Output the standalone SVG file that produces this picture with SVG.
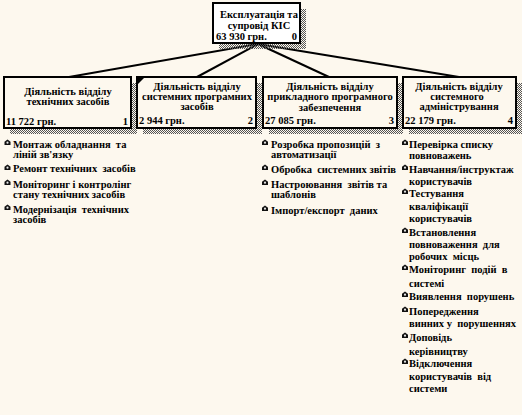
<svg xmlns="http://www.w3.org/2000/svg" width="522" height="415" viewBox="0 0 522 415">
<defs>
<pattern id="dither" width="2" height="2" patternUnits="userSpaceOnUse">
<rect x="0" y="0" width="1" height="1" fill="#555"/>
<rect x="1" y="1" width="1" height="1" fill="#555"/>
</pattern>
<g id="bul"><path d="M-3,2 L-3,-1.2 L0,-3.5 L3,-1.2 L3,2 Z" fill="#111"/><circle cx="0" cy="-0.3" r="1.1" fill="#e8e8e8"/></g>
</defs>
<style>
text{font-family:"Liberation Serif","Times New Roman",serif;font-weight:bold;font-size:10.5px;fill:#000;white-space:pre;}
.c{text-anchor:middle;}
.e{text-anchor:end;}
.box{fill:#FDF8EE;stroke:#000;stroke-width:2;}
.root{fill:#fff;stroke:#000;stroke-width:2;}
.sh{fill:url(#dither);}
.con line{stroke:#000;stroke-width:2;}
</style>
<rect width="522" height="415" fill="#FDF8EE"/>
<g class="con">
<line x1="258" y1="44" x2="69" y2="77"/>
<line x1="258" y1="44" x2="197" y2="77"/>
<line x1="258" y1="44" x2="329" y2="77"/>
<line x1="258" y1="44" x2="459" y2="77"/>
</g>
<g id="n0">
<rect class="sh" x="219" y="9" width="87" height="40"/>
<rect class="root" x="213" y="3" width="87" height="40"/>
<text class="c" x="259" y="18">Експлуатація та</text>
<text class="c" x="259" y="29">супровід КІС</text>
<text x="216" y="40">63 930 грн.</text>
<text class="e" x="297" y="40">0</text>
</g>
<g id="n1">
<rect class="sh" x="10" y="83" width="127" height="51"/>
<rect class="box" x="4" y="77" width="127" height="51"/>
<text class="c" x="68" y="95">Діяльність відділу</text>
<text class="c" x="68" y="105">технічних засобів</text>
<text x="6" y="125">11 722 грн.</text>
<text class="e" x="128" y="125">1</text>
</g>
<g id="n2">
<rect class="sh" x="143" y="83" width="119" height="51"/>
<rect class="box" x="137" y="77" width="119" height="51"/>
<path d="M138,78 L144,78 L138,84 Z" fill="#000"/>
<text class="c" x="197" y="90">Діяльність відділу</text>
<text class="c" x="197" y="100">системних програмних</text>
<text class="c" x="197" y="110">засобів</text>
<text x="139" y="124">2 944 грн.</text>
<text class="e" x="253" y="124">2</text>
</g>
<g id="n3">
<rect class="sh" x="269" y="83" width="134" height="51"/>
<rect class="box" x="263" y="77" width="134" height="51"/>
<text class="c" x="330" y="90">Діяльність відділу</text>
<text class="c" x="330" y="100">прикладного програмного</text>
<text class="c" x="330" y="111">забезпечення</text>
<text x="265" y="124">27 085 грн.</text>
<text class="e" x="394" y="124">3</text>
</g>
<g id="n4">
<rect class="sh" x="409" y="83" width="113" height="51"/>
<rect class="box" x="403" y="77" width="113" height="51"/>
<text class="c" x="459" y="90">Діяльність відділу</text>
<text class="c" x="457" y="100">системного</text>
<text class="c" x="459" y="110">адміністрування</text>
<text x="405" y="124">22 179 грн.</text>
<text class="e" x="513" y="124">4</text>
</g>
<g id="list1">
<use href="#bul" x="7.5" y="143"/>
<text x="13" y="148">Монтаж обладнання  та</text>
<text x="13" y="158">ліній зв'язку</text>
<use href="#bul" x="7.5" y="168"/>
<text x="13" y="172">Ремонт технічних  засобів</text>
<use href="#bul" x="7.5" y="183"/>
<text x="13" y="188">Моніторинг і контролінг</text>
<text x="13" y="198">стану технічних засобів</text>
<use href="#bul" x="7.5" y="208"/>
<text x="13" y="213">Модернізація  технічних</text>
<text x="13" y="223">засобів</text>
</g>
<g id="list3">
<use href="#bul" x="265" y="143"/>
<text x="271" y="148">Розробка пропозицій  з</text>
<text x="271" y="158">автоматизації</text>
<use href="#bul" x="265" y="168"/>
<text x="271" y="173">Обробка  системних звітів</text>
<use href="#bul" x="265" y="183"/>
<text x="271" y="188">Настроювання  звітів та</text>
<text x="271" y="198">шаблонів</text>
<use href="#bul" x="265" y="209"/>
<text x="271" y="214">Імпорт/експорт  даних</text>
</g>
<g id="list4">
<use href="#bul" x="405" y="143"/>
<text x="409" y="148">Перевірка списку</text>
<text x="409" y="159">повноважень</text>
<use href="#bul" x="405" y="168"/>
<text x="409" y="173">Навчання/інструктаж</text>
<text x="409" y="185">користувачів</text>
<use href="#bul" x="405" y="192"/>
<text x="409" y="197">Тестування</text>
<text x="409" y="210">кваліфікації</text>
<text x="409" y="222">користувачів</text>
<use href="#bul" x="405" y="231"/>
<text x="409" y="236">Встановлення</text>
<text x="409" y="248">повноваження  для</text>
<text x="409" y="260">робочих  місць</text>
<use href="#bul" x="405" y="268"/>
<text x="409" y="273">Моніторинг  подій  в</text>
<text x="409" y="287">системі</text>
<use href="#bul" x="405" y="295"/>
<text x="409" y="300">Виявлення  порушень</text>
<use href="#bul" x="405" y="310"/>
<text x="409" y="315">Попередження</text>
<text x="409" y="327">винних у  порушеннях</text>
<use href="#bul" x="405" y="336"/>
<text x="409" y="341">Доповідь</text>
<text x="409" y="355">керівництву</text>
<use href="#bul" x="405" y="362"/>
<text x="409" y="367">Відключення</text>
<text x="409" y="380">користувачів  від</text>
<text x="409" y="392">системи</text>
</g>
</svg>
